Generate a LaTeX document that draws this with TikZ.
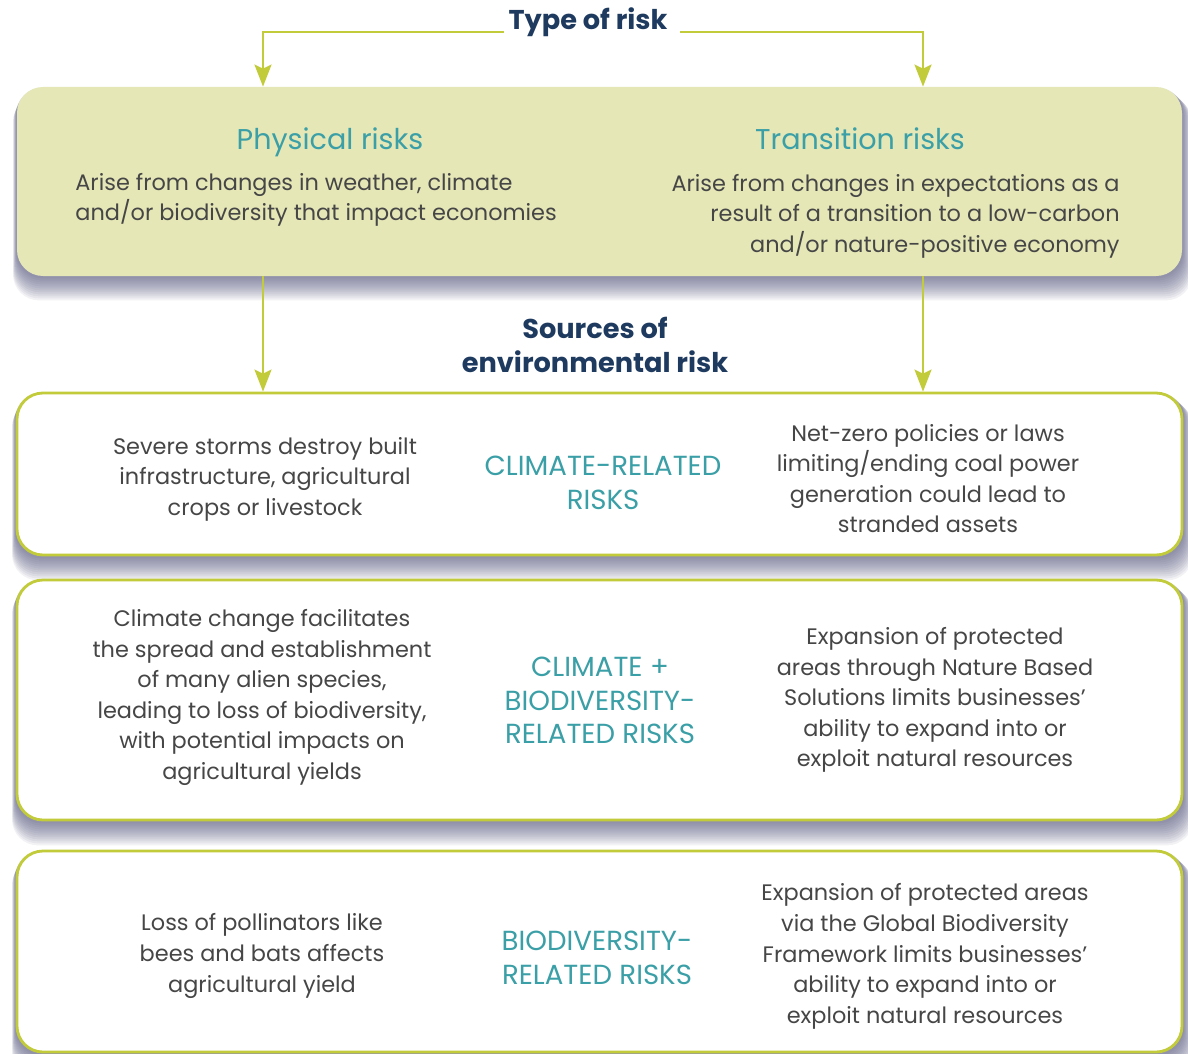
\documentclass[tikz,border=0pt]{standalone}
\usepackage{fontspec}
\setmainfont{Poppins}
\usetikzlibrary{arrows.meta,backgrounds}
\definecolor{limeg}{HTML}{C2CB3A}
\definecolor{palegreen}{HTML}{E5E7B7}
\definecolor{tealh}{HTML}{3A9FA6}
\definecolor{navyt}{HTML}{1E3A5F}
\definecolor{bodytxt}{HTML}{464646}
\definecolor{shadec}{HTML}{4A4C74}
\begin{document}
\begin{tikzpicture}[x=0.5pt,y=-0.5pt,
 conn/.style={draw=limeg, line width=1.1pt, -{Stealth[length=11pt,width=8.5pt,inset=2pt]}},
 greenbox/.style={fill=palegreen, rounded corners=13pt, minimum width=582.5pt, inner sep=0},
 riskbox/.style={draw=limeg, fill=white, line width=1.4pt, rounded corners=13pt, minimum width=582.5pt, inner sep=0},
 headtxt/.style={text=tealh, font=\fontsize{14.3}{17}\selectfont, inner sep=0},
 cattxt/.style={text=tealh, font=\fontsize{13.8}{16.7}\selectfont, align=center, inner sep=0},
 bodytx/.style={text=bodytxt, font=\fontsize{11.2}{15.3}\selectfont, align=center, inner sep=0},
 ttl/.style={text=navyt, font=\bfseries\fontsize{13.6}{17}\selectfont, align=center, inner sep=2pt}]
\useasboundingbox (0,0) rectangle (1188,1054);
% boxes
\node[greenbox, minimum height=94.5pt] (gb) at (599.5,181.5) {};
\node[riskbox, minimum height=81pt] (b1) at (599.5,474) {};
\node[riskbox, minimum height=120pt] (b2) at (599.5,700) {};
\node[riskbox, minimum height=100.5pt] (b3) at (599.5,951.5) {};
% shadows
\begin{scope}[on background layer]
\foreach \n in {gb,b1,b2,b3}{
  \foreach \d in {1,...,12}{
    \fill[shadec, opacity=0.075, rounded corners=13pt]
      ([xshift=-0.15*\d pt, yshift=-\d pt]\n.south west) rectangle ([xshift=0.4*\d pt, yshift=-0.4*\d pt]\n.north east);
  }
}
\end{scope}
% titles
\node[ttl, anchor=base] (t) at (588,30) {Type of risk};
\node[ttl] (src) at (595,345) {Sources of\\environmental risk};
\coordinate (pcol) at (263,0);
\coordinate (tcol) at (923,0);
\draw[conn] ([yshift=-1pt]t.base west) -| (pcol |- gb.north);
\draw[conn] ([xshift=4pt,yshift=-1pt]t.base east) -| (tcol |- gb.north);
\draw[conn] (pcol |- gb.south) -- (pcol |- b1.north);
\draw[conn] (tcol |- gb.south) -- (tcol |- b1.north);
% green box texts
\node[headtxt, anchor=base] (ph) at (330,149) {Physical risks};
\node[headtxt, anchor=base] (tr) at (860,149) {Transition risks};
\node[bodytx, align=left, anchor=west] (phd) at (75,200) {Arise from changes in weather, climate\\and/or biodiversity that impact economies};
\node[bodytx, align=right, anchor=east] (trd) at (1120,216) {Arise from changes in expectations as a\\result of a transition to a low-carbon\\and/or nature-positive economy};
% box 1
\node[bodytx] (l1) at (265,479) {Severe storms destroy built\\infrastructure, agricultural\\crops or livestock};
\node[cattxt] (c1) at (603,483) {CLIMATE-RELATED\\RISKS};
\node[bodytx] (r1) at (928,478.5) {Net-zero policies or laws\\limiting/ending coal power\\generation could lead to\\stranded assets};
% box 2
\node[bodytx] (l2) at (262,697.5) {Climate change facilitates\\the spread and establishment\\of many alien species,\\leading to loss of biodiversity,\\with potential impacts on\\agricultural yields};
\node[cattxt] (c2) at (600,700.5) {CLIMATE +\\BIODIVERSITY-\\RELATED RISKS};
\node[bodytx] (r2) at (935,700) {Expansion of protected\\areas through Nature Based\\Solutions limits businesses’\\ability to expand into or\\exploit natural resources};
% box 3
\node[bodytx] (l3) at (262,956) {Loss of pollinators like\\bees and bats affects\\agricultural yield};
\node[cattxt] (c3) at (597,958) {BIODIVERSITY-\\RELATED RISKS};
\node[bodytx] (r3) at (925,956.5) {Expansion of protected areas\\via the Global Biodiversity\\Framework limits businesses’\\ability to expand into or\\exploit natural resources};
\end{tikzpicture}
\end{document}
